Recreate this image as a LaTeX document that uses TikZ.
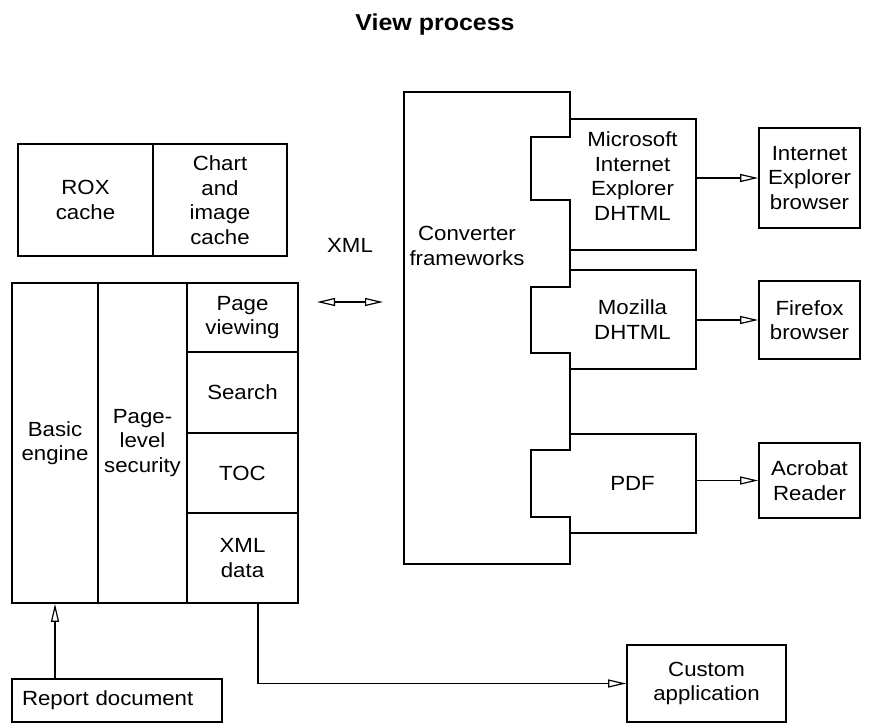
\documentclass[tikz,border=0pt]{standalone}
\usepackage{fontspec}
\setmainfont{Liberation Sans}[FakeStretch=1.085]
\usepackage{tikz}
\usetikzlibrary{positioning, arrows.meta, calc}

\begin{document}
\begin{tikzpicture}[
    x=1pt, y=-1pt,
    font=\fontsize{20.5}{24.5}\selectfont,
    line width=1.6pt,
    cell/.style={
        draw,
        rectangle,
        inner sep=0pt,
        align=center
    },
    plugin/.style={
        rectangle,
        inner sep=0pt,
        minimum width=125pt
    },
    outbox/.style={
        cell,
        minimum width=101pt
    },
    line/.style={
        draw,
        -{Triangle[open, length=18pt, width=8pt, line width=1.2pt]}
    },
    biLine/.style={
        draw,
        {Triangle[open, length=18pt, width=8pt, line width=1.2pt]}-{Triangle[open, length=18pt, width=8pt, line width=1.2pt]}
    }
]
\useasboundingbox (0,0) rectangle (877,723);

% --- Title ---
\node[anchor=base, font=\fontsize{23}{26}\selectfont\bfseries] (title) at (435,30) {View process};

% --- Caches (Top Left) ---
\node[cell, minimum width=135pt, minimum height=112pt] (rox) at (85.5,200) {ROX\\cache};
\node[cell, minimum width=134pt, minimum height=112pt] (chart) at (220,200) {Chart\\and\\image\\cache};

% --- Engine Stack (Left) ---
\node[cell, minimum width=86pt, minimum height=320pt] (basic) at (55,443) {Basic\\engine};
\node[cell, minimum width=89pt, minimum height=320pt] (security) at (142.5,443) {Page-\\level\\security};
\node[cell, minimum width=111pt, minimum height=69pt] (pageview) at (242.5,317.5) {Page\\viewing};
\node[cell, minimum width=111pt, minimum height=81pt] (search) at (242.5,392.5) {Search};
\node[cell, minimum width=111pt, minimum height=80pt] (toc) at (242.5,473) {TOC};
\node[cell, minimum width=111pt, minimum height=90pt] (xmldata) at (242.5,558) {XML\\data};

% --- XML exchange ---
\node (xml) at (350,245) {XML};
\coordinate (xmlL) at (317,302);
\coordinate (xmlR) at (383,302);

% --- Converter frameworks (Centre) ---
\draw (404,92) -- (570,92) -- (570,137) -- (531,137) -- (531,200) -- (570,200)
    -- (570,287) -- (531,287) -- (531,353) -- (570,353)
    -- (570,450) -- (531,450) -- (531,517) -- (570,517)
    -- (570,564) -- (404,564) -- cycle;
\node[align=center] (conv) at (467,246) {Converter\\frameworks};

% --- Converters plugged into the frameworks ---
\node[plugin, minimum height=129pt] (ms) at (632.5,184.5) {};
\node[align=center] (mstext) at (632.5,176) {Microsoft\\Internet\\Explorer\\DHTML};
\node[plugin, minimum height=97pt, align=center] (moz) at (632.5,319.5) {Mozilla\\DHTML};
\node[plugin, minimum height=97pt] (pdf) at (632.5,483.5) {PDF};

\draw (ms.south west) -- (ms.south east) -- (ms.north east) -- (ms.north west);
\draw (moz.south west) -- (moz.south east) -- (moz.north east) -- (moz.north west);
\draw (pdf.south west) -- (pdf.south east) -- (pdf.north east) -- (pdf.north west);

% --- Viewers (Right) ---
\node[outbox, minimum height=100pt] (ie) at (809.5,178) {Internet\\Explorer\\browser};
\node[outbox, minimum height=78pt] (firefox) at (809.5,320) {Firefox\\browser};
\node[outbox, minimum height=75pt] (acrobat) at (809.5,480.5) {Acrobat\\Reader};

% --- Bottom ---
\node[cell, minimum height=43pt, text width=190pt, inner sep=10pt, align=left] (report) at (117,700.5) {Report document};
\node[cell, minimum width=159pt, minimum height=77pt] (custom) at (706.5,683.5) {Custom\\application};

% --- Connections ---
\draw[biLine] (xmlL) -- (xmlR);
\draw[line] (ms.east |- ie) -- (ie);
\draw[line] (moz.east |- firefox) -- (firefox);
\draw[line] (pdf.east |- acrobat) -- (acrobat);
\draw[line] (report.north -| basic) -- (basic.south);
\draw[line] ([xshift=15.5pt]xmldata.south) |- (custom);

\end{tikzpicture}
\end{document}
